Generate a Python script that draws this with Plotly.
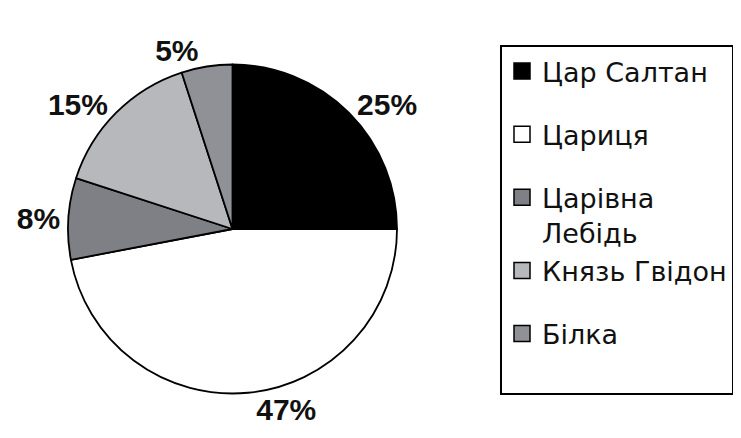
import plotly.graph_objects as go

labels = ["Цар Салтан", "Цариця", "Царівна<br>Лебідь", "Князь Гвідон", "Білка"]
values = [25, 47, 8, 15, 5]
colors = ["#000000", "#ffffff", "#7f8085", "#b6b8bb", "#8f9196"]
groups = ["g1", "g2", "g3", "g3", "g4"]

W, H = 741, 438
OFF = 8  # page body margin

fig = go.Figure()
fig.add_trace(go.Pie(
    labels=labels, values=values, sort=False, direction="clockwise", rotation=0,
    marker=dict(colors=colors, line=dict(color="#000000", width=1.8)),
    texttemplate="<b>%{value}%</b>", textposition="outside",
    textfont=dict(family="Liberation Sans, Arial, sans-serif", size=30, color="#111111"),
    domain=dict(x=[(68 - OFF) / W, (397 - OFF) / W],
                y=[1 - (395 - OFF) / H, 1 - (63 - OFF) / H]),
    showlegend=False, hoverinfo="label+value",
))

legend_names = labels[:-1] + [labels[-1] + "<br> "]
for lab, col, grp in zip(legend_names, colors, groups):
    fig.add_trace(go.Scatter(
        x=[None], y=[None], mode="markers", name=lab, legendgroup=grp,
        marker=dict(symbol="square", size=17, color=col, line=dict(color="#000000", width=1.5)),
    ))

fig.update_layout(
    width=W, height=H,
    margin=dict(l=0, r=0, t=0, b=0),
    paper_bgcolor="white", plot_bgcolor="white",
    xaxis=dict(visible=False), yaxis=dict(visible=False),
    font=dict(family="Liberation Sans, Arial, sans-serif", color="#111111"),
    legend=dict(
        x=(500 - OFF) / W, y=1 - (45 - OFF) / H, xanchor="left", yanchor="top",
        bordercolor="#000000", borderwidth=2, bgcolor="white",
        font=dict(size=27, family="DejaVu Sans, sans-serif", color="#111111"),
        tracegroupgap=25, valign="top", traceorder="grouped", itemclick=False,
    ),
)

fig.write_html("out.html")
